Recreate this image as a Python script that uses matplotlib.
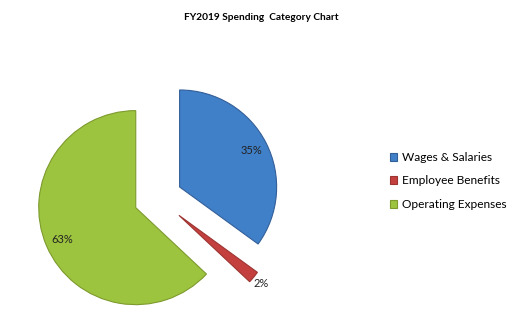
import matplotlib.pyplot as plt
import numpy as np

# 支出区分
categories = ["Wages & Salaries", "Employee Benefits", "Operating Expenses"]
shares = [35, 2, 63]
colors = ["#4080c8", "#c4403e", "#9dc43e"]
edges = ["#335f99", "#9c3532", "#7d9a2e"]

plt.rcParams['font.family'] = ['Lato', 'DejaVu Sans']

fig = plt.figure(figsize=(5.22, 3.35), dpi=100)
W, H = 522, 335
# 円の中心 (158,198) 半径 ~97px
ax = fig.add_axes([28 / W, 7 / H, 260 / W, 260 / H])

wedges, texts, autotexts = ax.pie(
    shares, colors=colors, startangle=90, counterclock=False,
    explode=[0.25, 0.28, 0.25], autopct='%1.0f%%', pctdistance=0.83,
    wedgeprops=dict(linewidth=0.8), textprops=dict(fontsize=8, color='#222222'),
)
for w, ec in zip(wedges, edges):
    w.set_edgecolor(ec)

# 2% のラベルは外側
w = wedges[1]
mid = np.deg2rad((w.theta1 + w.theta2) / 2)
cx, cy = w.center
autotexts[1].set_position((cx + 1.1 * np.cos(mid), cy + 1.1 * np.sin(mid)))

ax.set_xlim(-1.34, 1.34)
ax.set_ylim(-1.34, 1.34)
ax.set_aspect('equal')
ax.axis('off')

fig.text(0.5, 1 - 18 / H, "FY2019 Spending  Category Chart", ha='center', va='center',
         fontsize=7.3, fontweight='bold')

fig.legend(wedges, categories, loc='center left', bbox_to_anchor=(379 / W, 1 - 181 / H),
           frameon=False, fontsize=8.6, handlelength=0.6, handleheight=0.6,
           handletextpad=0.4, labelspacing=1.05)

fig.savefig("out.png", dpi=100)
